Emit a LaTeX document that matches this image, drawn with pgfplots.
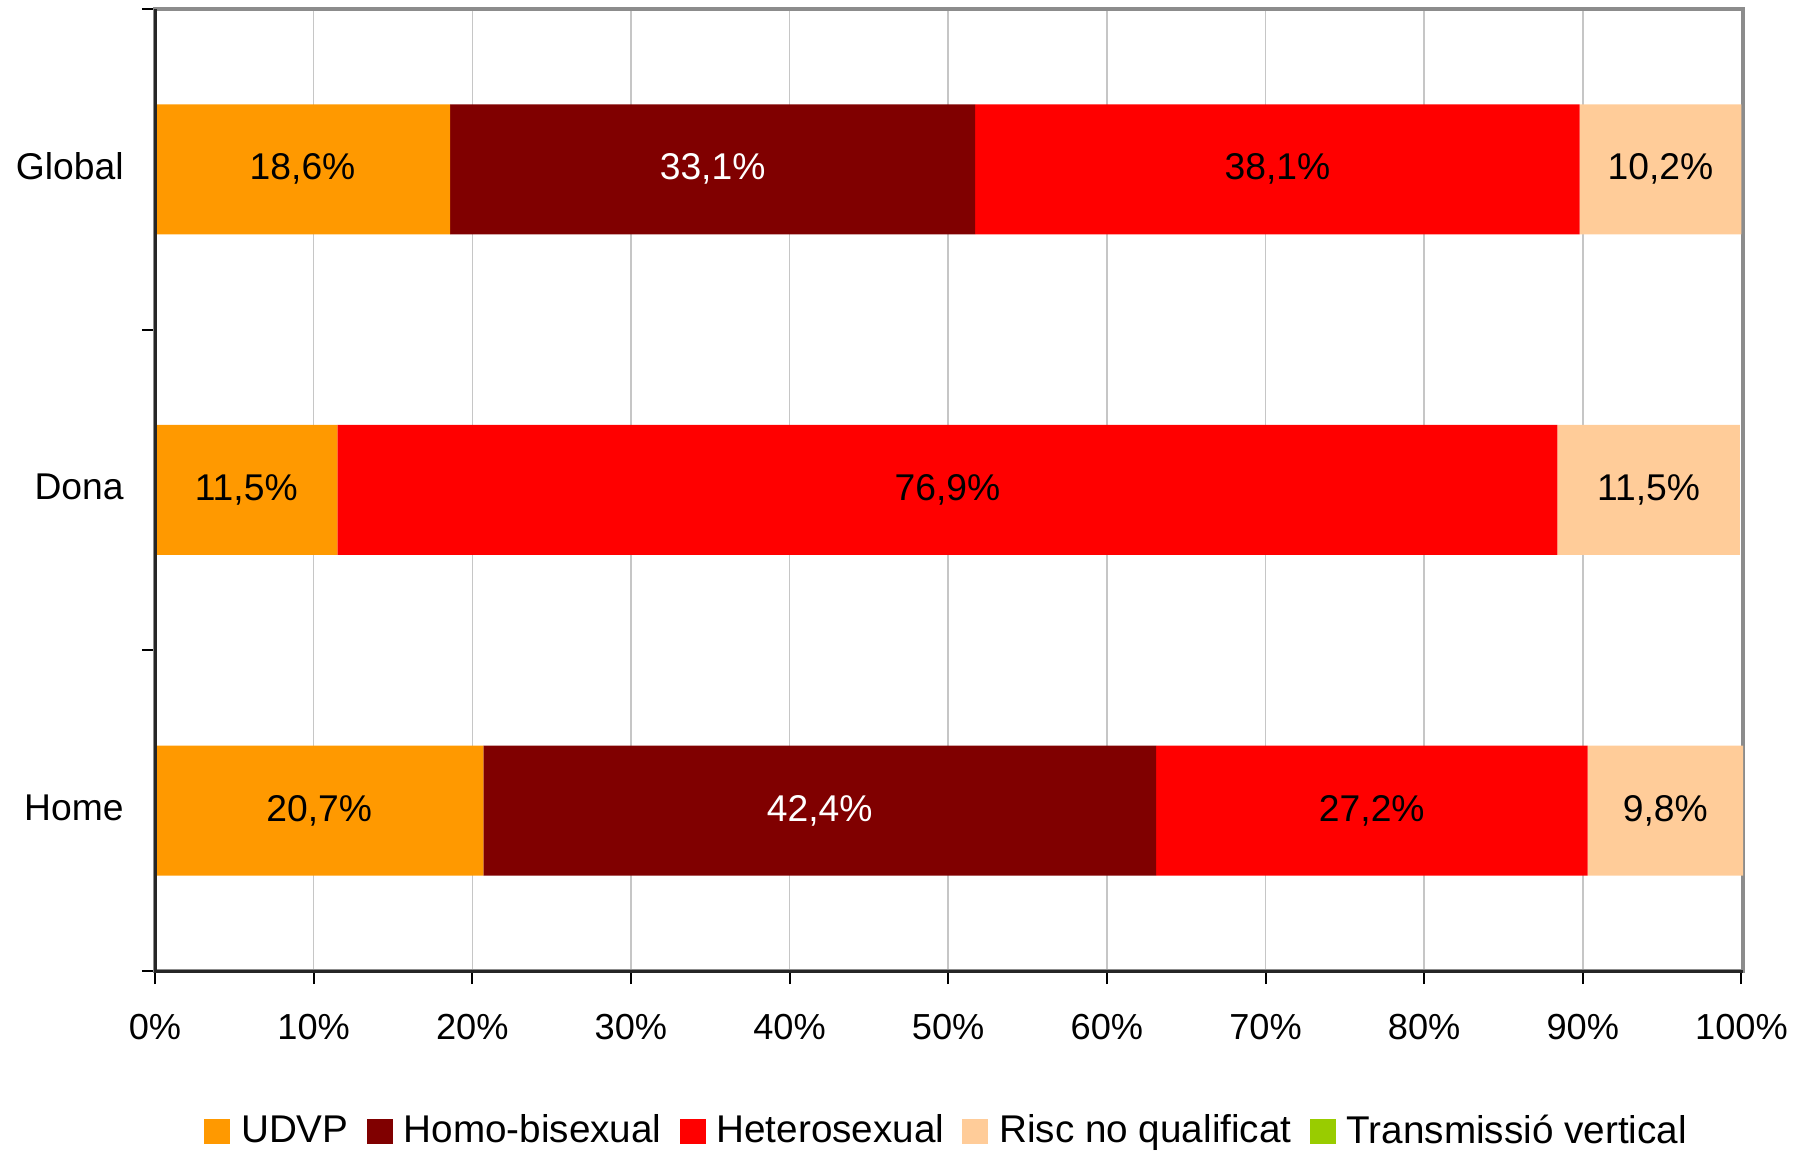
\documentclass[border=0pt]{standalone}
\usepackage{pgfplots}
\pgfplotsset{compat=1.18}
\usepackage{fontspec}
\setmainfont{Liberation Sans}

\definecolor{udvp}{HTML}{FF9900}
\definecolor{homo}{HTML}{800000}
\definecolor{hetero}{HTML}{FF0000}
\definecolor{risc}{HTML}{FFCC99}
\definecolor{transm}{HTML}{99CC00}

\begin{document}
\begin{tikzpicture}
\begin{axis}[
    xbar stacked,
    scale only axis,
    width=158.8mm, height=96.2mm,
    bar width=13mm,
    xmin=0, xmax=100.1,
    ymin=-0.5, ymax=2.5,
    /pgf/number format/assume math mode=true,
    xtick={0,10,...,100},
    xticklabel={\pgfmathprintnumber{\tick}\%},
    xticklabel style={font=\fontsize{10.3}{12}\selectfont, yshift=-1.8mm},
    ytick={-0.5,0.5,1.5,2.5},
    yticklabels={},
    extra y ticks={0,1,2},
    extra y tick labels={Home,Dona,Global},
    extra y tick style={major tick length=0pt,
        yticklabel style={font=\fontsize{10.6}{12}\selectfont, xshift=-1.9mm, yshift=0.3mm}},
    tick pos=left,
    tick align=outside,
    major tick length=1.3mm,
    tick style={black, line width=0.2mm},
    xmajorgrids,
    grid style={draw=gray!45, line width=0.15mm},
    axis line style={draw=gray!90, line width=0.35mm},
    nodes near coords={\pgfmathfloatifflags{\pgfplotspointmeta}{0}{}{\pgfmathprintnumber[fixed,fixed zerofill,precision=1,use comma]{\pgfplotspointmeta}\%}},
    every node near coord/.append style={anchor=center, text=black,
        font=\fontsize{10.6}{12}\selectfont},
    legend style={at={(0.5,-0.131)}, anchor=north, legend columns=-1,
        draw=none, fill=white, font=\fontsize{11}{13}\selectfont,
        inner xsep=1.2mm, inner ysep=1mm,
        /tikz/every odd column/.append style={column sep=0.4mm},
        /tikz/every even column/.append style={column sep=1.1mm}},
    legend image code/.code={\path[#1] (0mm,-1.25mm) rectangle (2.6mm,1.25mm);},
]
% y: 0 = Home, 1 = Dona, 2 = Global
\addplot[fill=udvp, draw=none] coordinates {(20.7,0) (11.5,1) (18.6,2)};
\addlegendentry{UDVP}
\addplot[fill=homo, draw=none, every node near coord/.append style={text=white}]
    coordinates {(42.4,0) (0,1) (33.1,2)};
\addlegendentry{Homo-bisexual}
\addplot[fill=hetero, draw=none] coordinates {(27.2,0) (76.9,1) (38.1,2)};
\addlegendentry{Heterosexual}
\addplot[fill=risc, draw=none] coordinates {(9.8,0) (11.5,1) (10.2,2)};
\addlegendentry{Risc no qualificat}
\addplot[fill=transm, draw=none] coordinates {(0,0) (0,1) (0,2)};
\addlegendentry{Transmissió vertical}
\end{axis}
\draw[black!85, line width=0.3mm] (current axis.north west) -- (current axis.south west) -- (current axis.south east);
\pgfresetboundingbox
\path ([xshift=-15.5mm,yshift=-18.1mm]current axis.south west) rectangle ([xshift=5.9mm,yshift=0.9mm]current axis.north east);
\end{tikzpicture}
\end{document}
